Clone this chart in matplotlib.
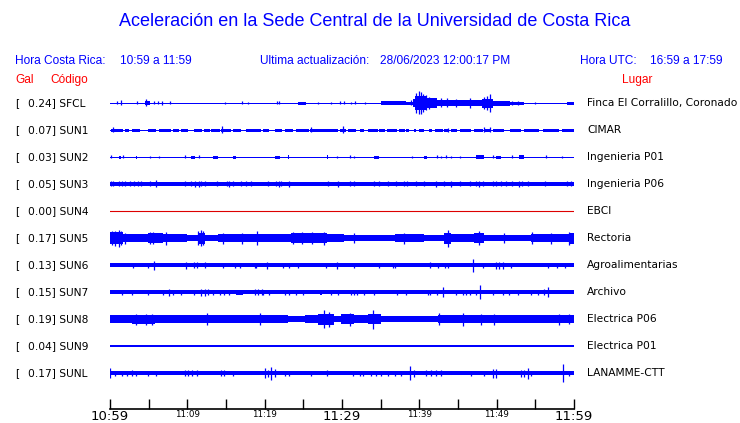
import matplotlib
matplotlib.use("Agg")
import matplotlib.pyplot as plt

W, H = 740, 423

STATIONS = ["SFCL", "SUN1", "SUN2", "SUN3", "SUN4", "SUN5", "SUN6", "SUN7", "SUN8", "SUN9", "SUNL"]
PEAK_GAL = [0.24, 0.07, 0.03, 0.05, 0.00, 0.17, 0.13, 0.15, 0.19, 0.04, 0.17]
PLACES = ["Finca El Corralillo, Coronado", "CIMAR", "Ingenieria P01", "Ingenieria P06", "EBCI",
          "Rectoria", "Agroalimentarias", "Archivo", "Electrica P06", "Electrica P01", "LANAMME-CTT"]

# half-height of the quiet trace, in pixels
BASE = [0.5, 0.5, 0.5, 1.6, 0.0, 3.4, 1.7, 1.7, 3.0, 1.3, 1.7]

TICK_MIN = list(range(0, 61, 5))
TICK_LABELS = ["10:59", "", "11:09", "", "11:19", "", "11:29", "", "11:39", "", "11:49", "", "11:59"]
BIG_LABELS = ["10:59", "11:29", "11:59"]

# (start min, end min, half-height px) stretches of stronger shaking
SFCL_SEGS = [(4.5, 5.2, 2), (24.3, 25.4, 1.5), (35.1, 38.3, 1.8), (38.3, 39.2, 1.5),
             (39.2, 39.5, 4), (39.5, 40.8, 7), (40.8, 42.3, 5), (42.3, 46.2, 3),
             (46.2, 48.1, 3), (48.1, 49.5, 4.5), (49.5, 51.7, 2.5), (51.7, 53.5, 1.5),
             (59.1, 60.0, 1.5)]
SUN1_SEGS = [(0.1, 1.7, 1.5), (2.0, 2.5, 1.5), (2.8, 3.9, 1.5), (4.9, 6.0, 1.5), (6.3, 7.9, 1.5),
             (8.2, 8.9, 1.5), (9.2, 10.1, 1.5), (10.8, 11.9, 1.5), (12.2, 12.9, 1.5),
             (13.1, 14.2, 1.5), (14.3, 15.7, 1.5), (15.9, 17.0, 1.5), (17.6, 19.5, 1.5),
             (19.8, 20.6, 1.5), (21.3, 22.2, 1.5), (22.6, 23.7, 1.5), (24.0, 25.7, 1.5),
             (25.8, 29.5, 1.5), (29.7, 30.5, 1.5), (30.8, 31.8, 1.5), (32.3, 32.9, 1.5),
             (33.3, 34.6, 1.5), (34.8, 35.5, 1.5), (35.8, 37.1, 1.5), (37.4, 38.1, 1.5),
             (38.3, 38.7, 1.5), (39.3, 39.6, 1.5), (40.0, 40.6, 1.5), (41.3, 41.7, 1.5),
             (42.0, 43.0, 1.5), (43.2, 43.7, 1.5), (44.1, 44.9, 1.5), (45.2, 46.7, 1.5),
             (47.1, 48.2, 1.5), (48.4, 49.2, 1.5), (49.5, 51.0, 1.5), (51.7, 53.1, 1.5),
             (53.5, 55.5, 1.5), (56.0, 58.1, 1.5), (58.4, 60.0, 1.5)]
SUN2_SEGS = [(1.1, 1.4, 1.5), (3.3, 3.5, 1.5), (10.5, 11.0, 1.5), (13.3, 14.0, 1.5),
             (15.9, 16.3, 1.5), (21.3, 22.0, 1.5), (23.0, 23.2, 1.8), (28.0, 28.2, 1.8),
             (34.2, 34.8, 1.5), (40.6, 41.0, 1.5), (47.3, 48.3, 1.8), (49.9, 50.5, 1.5),
             (52.9, 53.5, 1.8)]
SUN5_SEGS = [(0.0, 1.7, 6), (1.7, 4.9, 4), (4.9, 6.9, 4.6), (6.9, 9.9, 4.3), (11.4, 12.3, 5.5),
             (14.0, 18.7, 4), (18.7, 23.4, 4.3), (23.4, 28.0, 5), (28.0, 30.3, 4),
             (36.8, 40.6, 4.3), (43.2, 44.1, 5.5), (44.1, 47.1, 4), (47.1, 48.4, 4.6),
             (54.4, 59.3, 4.3), (59.3, 60.0, 5.5)]
SUN7_SEGS = [(16.3, 17.2, 2.5), (27.1, 27.4, 2.5)]
SUN8_SEGS = [(0.0, 2.8, 3.6), (2.8, 5.8, 4.5), (5.8, 10.5, 3.6), (10.5, 13.1, 4), (13.1, 17.8, 3.6),
             (17.8, 20.0, 4), (20.0, 23.0, 3.6), (25.2, 26.9, 4), (26.9, 29.0, 5.5),
             (29.9, 31.6, 5), (31.6, 33.3, 3.6), (33.3, 35.1, 4.8), (35.1, 42.4, 3.4),
             (42.4, 45.8, 4), (45.8, 60.0, 3.6)]

# (minute, half-height px) single spikes
SFCL_SPIKES = [(0.86, 1.5), (1.38, 2.5), (3.5, 1.5), (4.6, 3.5), (5.7, 1.5), (6.2, 1.5),
               (6.7, 2), (7.8, 1.5), (14.9, 1.2), (17.1, 1.5), (17.8, 1), (21.6, 1.5),
               (21.8, 1.5), (26.9, 1.2), (28.6, 1), (29.8, 1.5), (30.3, 1.5), (31.2, 1),
               (31.7, 1.5), (33.0, 1.2), (38.9, 2.5), (39.6, 10), (39.9, 11.5), (40.2, 11),
               (40.5, 9), (40.9, 7.5), (41.3, 6), (42.8, 4.5), (43.6, 4.5), (44.8, 4),
               (46.6, 5), (48.3, 6), (48.8, 7), (49.2, 9), (52.0, 2), (52.8, 2), (55.0, 1)]
SUN1_SPIKES = [(0.4, 2.5), (14.5, 3.5), (26.0, 2.5), (30.1, 3.5), (43.7, 2), (48.4, 2.5), (49.1, 2.5)]
SUN2_SPIKES = [(0.1, 1.5), (1.7, 1.5), (5.2, 1.2), (6.4, 1.2), (9.7, 1.5), (11.5, 1.5),
               (29.3, 1.2), (31.0, 1.5), (31.5, 1.2), (39.1, 1.2), (42.3, 1.5), (42.8, 1.2),
               (43.4, 1.5), (44.1, 1.2), (45.2, 1.2), (49.5, 1.5), (52.0, 1.5), (56.4, 1.5),
               (58.4, 1.2)]
SUN3_SPIKES = [(0.1, 2.5), (0.4, 2.5), (1.1, 2.5), (1.5, 2.5), (1.9, 2.5), (2.6, 2.5), (3.1, 2.5),
               (3.6, 2.5), (4.0, 2.5), (5.2, 2.5), (6.0, 3.5), (9.7, 2.5), (10.5, 2.5),
               (11.0, 3), (11.5, 3), (11.8, 2.5), (12.3, 2.5), (13.8, 2.5), (15.1, 2.5),
               (15.4, 3), (15.9, 2.5), (17.0, 2.5), (17.6, 2.5), (18.2, 2.5), (20.4, 2.5),
               (21.5, 2.5), (21.8, 3), (22.1, 2.5), (23.2, 3), (28.2, 2.5), (29.5, 3),
               (31.0, 2.5), (31.5, 2.5), (34.1, 2.5), (34.8, 2.5), (35.9, 2.5), (37.0, 2.5),
               (38.0, 2.5), (38.4, 2.5), (39.6, 2.5), (40.6, 2.5), (42.2, 3), (43.2, 2.5),
               (44.1, 3), (45.2, 2.5), (46.5, 2.5), (47.3, 2.5), (47.7, 3), (48.2, 2.5),
               (49.5, 2.5), (49.9, 2.5), (50.5, 2.5), (51.2, 2.5), (52.0, 2.5), (52.9, 3),
               (53.3, 2.5), (54.0, 2.5), (56.2, 2.5), (59.1, 2.5), (59.6, 2.5)]
SUN5_SPIKES = [(0.3, 7), (0.7, 7.5), (1.1, 8.5), (1.4, 7), (1.9, 5.5), (5.2, 6), (5.6, 6),
               (7.3, 6.5), (11.4, 7), (11.8, 8), (12.0, 7), (14.6, 5.5), (17.1, 5.5),
               (19.0, 7), (23.7, 6), (24.8, 6), (26.1, 6), (27.7, 6.5), (31.5, 5),
               (38.0, 5.5), (43.7, 8.5), (47.7, 7), (51.0, 5), (54.6, 6), (57.0, 5.5),
               (59.4, 6.5)]
SUN6_SPIKES = [(3.0, 2.5), (4.9, 2.5), (5.7, 4.5), (9.8, 3.5), (10.9, 3), (11.3, 3), (12.3, 3),
               (14.6, 2.5), (16.1, 2.5), (16.8, 2.5), (18.7, 2.5), (18.9, 2.5), (20.3, 3.5),
               (22.4, 2.5), (23.2, 2.5), (24.3, 2.5), (27.9, 2.5), (29.4, 3.5), (31.6, 2.5),
               (34.8, 2.5), (36.6, 2.5), (36.8, 2.5), (41.4, 3), (42.4, 2.5), (43.3, 2.5),
               (43.7, 2.5), (46.9, 6.5), (48.2, 2.5), (49.9, 3.5), (50.3, 3.5), (50.8, 3.5),
               (51.8, 2.5), (56.6, 2.5), (57.8, 2.5), (58.8, 2.5)]
SUN7_SPIKES = [(1.5, 2.5), (2.8, 2.5), (4.9, 2.5), (6.9, 2.5), (7.6, 3.5), (8.2, 2.5), (9.2, 2.5),
               (10.8, 2.5), (11.8, 3.5), (12.3, 3.5), (12.7, 3), (13.3, 2.5), (14.2, 2.5),
               (14.8, 2.5), (15.4, 2.5), (18.7, 3), (19.1, 3), (19.6, 3), (19.8, 2.5),
               (20.6, 2.5), (22.6, 2.5), (23.1, 2.5), (24.1, 2.5), (24.9, 2.5), (28.6, 2.5),
               (29.5, 2.5), (31.2, 2.5), (31.6, 2.5), (32.0, 2.5), (32.9, 2.5), (34.2, 2.5),
               (37.1, 2.5), (38.3, 2.5), (41.1, 2.5), (41.4, 2.5), (42.3, 2.5), (43.0, 5),
               (44.7, 2.5), (45.6, 2.5), (46.0, 2.5), (46.5, 2.5), (47.3, 2.5), (47.8, 7),
               (49.5, 2.5), (50.8, 2.5), (51.6, 2.5), (52.7, 2.5), (54.4, 2.5), (55.3, 2.5),
               (56.1, 3), (56.6, 5)]
SUN8_SPIKES = [(3.4, 5.5), (4.7, 5.5), (5.4, 5.5), (12.5, 6), (19.4, 6), (27.7, 9), (28.3, 7.5),
               (31.0, 6.5), (34.0, 9.5), (42.6, 6), (45.6, 6.5), (48.0, 5.5), (49.7, 5.5),
               (58.1, 5.5), (59.4, 5)]
SUN9_SPIKES = []
SUNL_SPIKES = [(0.02, 5), (0.6, 2.5), (1.5, 2.5), (2.2, 2.5), (2.9, 3), (3.4, 2.5), (4.9, 2.5),
               (6.0, 2.5), (9.7, 3), (10.1, 3), (10.6, 3), (11.2, 3), (14.4, 3), (14.8, 3),
               (15.9, 2.5), (20.0, 5), (20.4, 3.5), (20.8, 6.5), (21.3, 4), (22.6, 2.5),
               (23.2, 2.5), (26.0, 2.5), (28.1, 3), (31.4, 2.5), (32.3, 2.5), (32.7, 2.5),
               (33.8, 2.5), (34.4, 2.5), (35.1, 2.5), (35.9, 2.5), (36.8, 2.5), (37.6, 2.5),
               (38.8, 7), (39.3, 3.5), (40.9, 3), (41.5, 3), (42.2, 3), (42.8, 3), (46.7, 2.5),
               (48.4, 2.5), (49.5, 4.5), (49.9, 4.5), (53.1, 3.5), (53.5, 3.5), (54.0, 5.5),
               (54.4, 2.5), (58.6, 9), (59.4, 2.5)]

SEGS = [SFCL_SEGS, SUN1_SEGS, SUN2_SEGS, [], [], SUN5_SEGS, [], SUN7_SEGS, SUN8_SEGS, [], []]
SPIKES = [SFCL_SPIKES, SUN1_SPIKES, SUN2_SPIKES, SUN3_SPIKES, [], SUN5_SPIKES, SUN6_SPIKES,
          SUN7_SPIKES, SUN8_SPIKES, SUN9_SPIKES, SUNL_SPIKES]

BLUE = "#0000ff"
RED = "#ff0000"
HEAD_FONT = "Liberation Sans"
LABEL_FONT = "DejaVu Sans"


def fx(x):
    return x / W


def fy(y):
    return 1 - y / H


fig = plt.figure(figsize=(W / 100, H / 100), dpi=100)
ax = fig.add_axes([fx(110), fy(409), fx(574) - fx(110), fy(90) - fy(409)])
ax.set_xlim(0, 60)
ax.set_ylim(409, 90)

y0, step = 103, 27
for i, name in enumerate(STATIONS):
    c = y0 + step * i
    if BASE[i] == 0:
        ax.plot([0, 60], [c, c], color="#dd0000", lw=0.8)
    else:
        ax.fill_between([0, 60], c - BASE[i], c + BASE[i], color=BLUE, lw=0)
    for s, e, h in SEGS[i]:
        ax.fill_between([s, e], c - h, c + h, color=BLUE, lw=0)
    for t, h in SPIKES[i]:
        ax.vlines(t, c - h, c + h, color=BLUE, lw=0.9)

    fig.text(fx(15), fy(c), "[", ha="left", va="center", fontsize=7.7, family=LABEL_FONT)
    fig.text(fx(28), fy(c), f"{PEAK_GAL[i]:.2f}] {name}", ha="left", va="center",
             fontsize=7.7, family=LABEL_FONT)
    fig.text(fx(587), fy(c), PLACES[i], ha="left", va="center", fontsize=7.7, family=LABEL_FONT)

for side in ["left", "right", "top"]:
    ax.spines[side].set_visible(False)
ax.spines["bottom"].set_linewidth(1.2)
ax.set_yticks([])
ax.set_xticks(TICK_MIN)
ax.set_xticklabels(TICK_LABELS, family=LABEL_FONT)
ax.tick_params(axis="x", direction="in", length=7, width=1, pad=0.5)
for lab in ax.get_xticklabels():
    lab.set_fontsize(9.5 if lab.get_text() in BIG_LABELS else 6.3)

fig.text(fx(375), fy(22), "Aceleración en la Sede Central de la Universidad de Costa Rica",
         ha="center", va="center", fontsize=13, color=BLUE, family=HEAD_FONT)
fig.text(fx(15), fy(61), "Hora Costa Rica:", ha="left", va="center", fontsize=8.6, color=BLUE, family=HEAD_FONT)
fig.text(fx(120), fy(61), "10:59 a 11:59", ha="left", va="center", fontsize=8.6, color=BLUE, family=HEAD_FONT)
fig.text(fx(260), fy(61), "Ultima actualización:", ha="left", va="center", fontsize=8.6, color=BLUE, family=HEAD_FONT)
fig.text(fx(380), fy(61), "28/06/2023 12:00:17 PM", ha="left", va="center", fontsize=8.6, color=BLUE, family=HEAD_FONT)
fig.text(fx(580), fy(61), "Hora UTC:", ha="left", va="center", fontsize=8.6, color=BLUE, family=HEAD_FONT)
fig.text(fx(650), fy(61), "16:59 a 17:59", ha="left", va="center", fontsize=8.6, color=BLUE, family=HEAD_FONT)
fig.text(fx(15), fy(80), "Gal", ha="left", va="center", fontsize=8.6, color=RED, family=HEAD_FONT)
fig.text(fx(50), fy(80), "Código", ha="left", va="center", fontsize=8.6, color=RED, family=HEAD_FONT)
fig.text(fx(622), fy(80), "Lugar", ha="left", va="center", fontsize=8.6, color=RED, family=HEAD_FONT)

fig.savefig("out.png", dpi=100)
